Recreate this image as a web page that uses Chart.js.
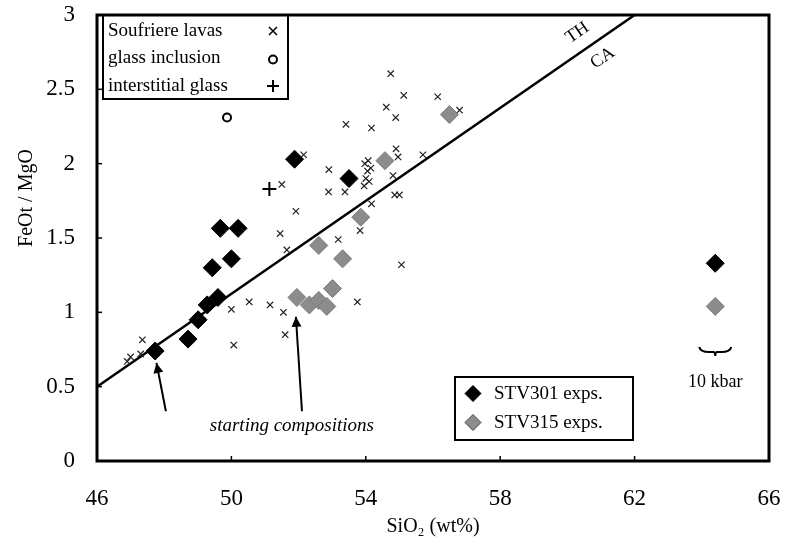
<!DOCTYPE html>
<html>
<head>
<meta charset="utf-8">
<script src="https://cdn.jsdelivr.net/npm/chart.js"></script>
<style>
  html, body { margin: 0; padding: 0; background: #fff; }
  #wrap { width: 792px; height: 544px; }
</style>
</head>
<body>
<div id="wrap"><canvas id="feoChart" width="792" height="544"></canvas></div>
<script>
// FeOt/MgO vs SiO2 - Soufriere lavas and experiments

const xTicks = [46, 50, 54, 58, 62, 66];
const yTicks = [0, 0.5, 1, 1.5, 2, 2.5, 3];

// Soufriere lavas (x marks)
const lavaSiO2 = [46.9, 47.0, 47.3, 47.35, 50.0, 50.07, 50.53, 51.15, 51.55, 51.6,
  51.5, 51.92, 51.45, 51.65, 52.15, 52.9, 52.89, 53.38, 53.41, 54.17,
  54.74, 55.13, 54.61, 54.89, 56.14, 53.83, 53.18, 53.75, 55.06, 54.96,
  54.9, 55.7, 54.81, 55.0, 54.86, 54.17, 53.95, 54.0, 54.05, 54.1,
  53.97, 54.07, 54.15, 56.79];
const lavaRatio = [0.67, 0.70, 0.72, 0.815, 1.02, 0.78, 1.07, 1.05, 1.00, 0.85,
  1.86, 1.68, 1.53, 1.42, 2.06, 1.96, 1.81, 1.81, 2.265, 2.24,
  2.605, 2.46, 2.38, 2.31, 2.45, 1.55, 1.49, 1.07, 1.32, 2.045,
  2.1, 2.06, 1.92, 1.79, 1.79, 1.73, 1.85, 1.90, 1.95, 1.88,
  2.0, 2.02, 1.97, 2.36];

// glass inclusion (o) and interstitial glass (+)
const inclSiO2 = [49.87];
const inclRatio = [2.31];
const interSiO2 = [51.13];
const interRatio = [1.83];

// experiments
const stv301SiO2 = [47.73, 48.71, 49.01, 49.28, 49.6, 49.43, 50.0, 49.67, 50.2, 51.88, 53.5, 64.4];
const stv301Ratio = [0.74, 0.82, 0.95, 1.05, 1.10, 1.30, 1.36, 1.565, 1.565, 2.03, 1.90, 1.33];
const stv315SiO2 = [51.95, 52.32, 52.6, 52.84, 53.01, 53.31, 52.6, 53.85, 54.57, 56.49, 64.4];
const stv315Ratio = [1.10, 1.05, 1.08, 1.04, 1.16, 1.36, 1.45, 1.64, 2.02, 2.33, 1.04];

// TH / CA dividing line
const divideSiO2 = [46, 62];
const divideRatio = [0.5, 3];

function pts(xs, ys) {
  return xs.map((x, i) => ({ x: x, y: ys[i] }));
}

const serif = '"Liberation Serif", "Times New Roman", serif';

function diamond(ctx, x, y, r, fill, stroke) {
  ctx.beginPath();
  ctx.moveTo(x - r, y);
  ctx.lineTo(x, y - r);
  ctx.lineTo(x + r, y);
  ctx.lineTo(x, y + r);
  ctx.closePath();
  ctx.fillStyle = fill;
  ctx.fill();
  ctx.strokeStyle = stroke;
  ctx.lineWidth = 1;
  ctx.stroke();
}

function arrow(ctx, x1, y1, x2, y2) {
  ctx.beginPath();
  ctx.moveTo(x1, y1);
  ctx.lineTo(x2, y2);
  ctx.lineWidth = 2;
  ctx.strokeStyle = '#000';
  ctx.stroke();
  const a = Math.atan2(y2 - y1, x2 - x1);
  const L = 10, W = 5;
  ctx.beginPath();
  ctx.moveTo(x2, y2);
  ctx.lineTo(x2 - L * Math.cos(a) + W * Math.sin(a), y2 - L * Math.sin(a) - W * Math.cos(a));
  ctx.lineTo(x2 - L * Math.cos(a) - W * Math.sin(a), y2 - L * Math.sin(a) + W * Math.cos(a));
  ctx.closePath();
  ctx.fillStyle = '#000';
  ctx.fill();
}

const decorPlugin = {
  id: 'decor',
  afterDraw(chart) {
    const ctx = chart.ctx;
    const a = chart.chartArea;
    const xs = chart.scales.x, ys = chart.scales.y;
    const px = v => xs.getPixelForValue(v);
    const py = v => ys.getPixelForValue(v);
    ctx.save();

    // frame
    ctx.strokeStyle = '#000';
    ctx.lineWidth = 3;
    ctx.strokeRect(a.left, a.top, a.right - a.left, a.bottom - a.top);

    // inward ticks
    ctx.lineWidth = 1.5;
    xTicks.forEach(t => {
      ctx.beginPath();
      ctx.moveTo(px(t), a.bottom);
      ctx.lineTo(px(t), a.bottom - 5);
      ctx.stroke();
    });
    yTicks.forEach(t => {
      ctx.beginPath();
      ctx.moveTo(a.left, py(t));
      ctx.lineTo(a.left + 5, py(t));
      ctx.stroke();
    });

    // axis titles
    ctx.fillStyle = '#000';
    ctx.font = '20px ' + serif;
    ctx.textAlign = 'center';
    ctx.textBaseline = 'middle';
    ctx.fillText('SiO\u2082 (wt%)', (a.left + a.right) / 2, 527);
    ctx.save();
    ctx.translate(27, 198);
    ctx.rotate(-Math.PI / 2);
    ctx.fillText('FeOt / MgO', 0, 0);
    ctx.restore();

    // top-left legend
    ctx.lineWidth = 2;
    ctx.strokeRect(a.left + 6, a.top, 185, 84);
    ctx.font = '19px ' + serif;
    ctx.textAlign = 'left';
    const rows = ['Soufriere lavas', 'glass inclusion', 'interstitial glass'];
    rows.forEach((t, i) => ctx.fillText(t, a.left + 11, a.top + 16 + i * 27.5));
    const mx = a.left + 176;
    ctx.lineWidth = 1.5;
    let my = a.top + 16;
    ctx.beginPath();
    ctx.moveTo(mx - 4, my - 4); ctx.lineTo(mx + 4, my + 4);
    ctx.moveTo(mx + 4, my - 4); ctx.lineTo(mx - 4, my + 4);
    ctx.stroke();
    my += 27.5;
    ctx.lineWidth = 2;
    ctx.beginPath();
    ctx.arc(mx, my + 1, 4, 0, Math.PI * 2);
    ctx.stroke();
    my += 27.5;
    ctx.beginPath();
    ctx.moveTo(mx - 6, my); ctx.lineTo(mx + 6, my);
    ctx.moveTo(mx, my - 6); ctx.lineTo(mx, my + 6);
    ctx.stroke();

    // bottom legend
    ctx.lineWidth = 2;
    ctx.strokeRect(455, 377, 178, 63);
    diamond(ctx, 473, 393.5, 8, '#000', '#000');
    diamond(ctx, 473, 422.5, 8, '#8c8c8c', '#444');
    ctx.fillStyle = '#000';
    ctx.font = '19px ' + serif;
    ctx.fillText('STV301 exps.', 494, 394);
    ctx.fillText('STV315 exps.', 494, 423);

    // TH / CA labels along the line
    const ang = Math.atan2(py(3) - py(0.5), px(62) - px(46));
    ctx.font = '18px ' + serif;
    ctx.textAlign = 'center';
    ctx.save();
    ctx.translate(px(60.3), py(2.88));
    ctx.rotate(ang);
    ctx.fillText('TH', 0, 0);
    ctx.restore();
    ctx.save();
    ctx.translate(px(61.05), py(2.71));
    ctx.rotate(ang);
    ctx.fillText('CA', 0, 0);
    ctx.restore();

    // starting compositions
    arrow(ctx, px(48.05), py(0.335), px(47.77), py(0.66));
    arrow(ctx, px(52.1), py(0.335), px(51.92), py(0.97));
    ctx.font = 'italic 19px ' + serif;
    ctx.fillText('starting compositions', px(51.8), py(0.235));

    // 10 kbar brace
    const bx = px(64.4), by = py(0.74);
    ctx.lineWidth = 2;
    ctx.beginPath();
    ctx.moveTo(bx - 16, by - 4);
    ctx.quadraticCurveTo(bx - 15, by + 1, bx - 6, by + 1);
    ctx.lineTo(bx - 2, by + 1);
    ctx.quadraticCurveTo(bx, by + 1, bx, by + 5);
    ctx.quadraticCurveTo(bx, by + 1, bx + 2, by + 1);
    ctx.lineTo(bx + 6, by + 1);
    ctx.quadraticCurveTo(bx + 15, by + 1, bx + 16, by - 4);
    ctx.stroke();
    ctx.font = '18px ' + serif;
    ctx.fillText('10 kbar', bx, py(0.53));

    ctx.restore();
  }
};

const ctx = document.getElementById('feoChart').getContext('2d');
new Chart(ctx, {
  type: 'scatter',
  data: {
    datasets: [
      {
        label: 'STV301 exps.',
        data: pts(stv301SiO2, stv301Ratio),
        pointStyle: 'rectRot',
        pointRadius: 9,
        backgroundColor: '#000',
        borderColor: '#000',
        borderWidth: 1,
        order: 1
      },
      {
        label: 'STV315 exps.',
        data: pts(stv315SiO2, stv315Ratio),
        pointStyle: 'rectRot',
        pointRadius: 9,
        backgroundColor: '#8c8c8c',
        borderColor: '#7a7a7a',
        borderWidth: 1,
        order: 2
      },
      {
        label: 'glass inclusion',
        data: pts(inclSiO2, inclRatio),
        pointStyle: 'circle',
        pointRadius: 4,
        backgroundColor: '#fff',
        borderColor: '#000',
        borderWidth: 2,
        order: 3
      },
      {
        label: 'interstitial glass',
        data: pts(interSiO2, interRatio),
        pointStyle: 'cross',
        pointRadius: 7,
        borderColor: '#000',
        borderWidth: 2,
        order: 3
      },
      {
        label: 'Soufriere lavas',
        data: pts(lavaSiO2, lavaRatio),
        pointStyle: 'crossRot',
        pointRadius: 4.5,
        borderColor: '#222',
        borderWidth: 1.2,
        order: 4
      },
      {
        label: 'TH/CA',
        data: pts(divideSiO2, divideRatio),
        showLine: true,
        pointRadius: 0,
        borderColor: '#000',
        borderWidth: 2.5,
        order: 5
      }
    ]
  },
  options: {
    responsive: false,
    animation: false,
    layout: { padding: { left: 0, top: 15, right: 23, bottom: 0 } },
    plugins: {
      legend: { display: false },
      tooltip: { enabled: false }
    },
    scales: {
      x: {
        type: 'linear',
        min: 46,
        max: 66,
        afterBuildTicks: s => { s.ticks = xTicks.map(v => ({ value: v })); },
        afterFit: s => { s.height = 83; s.paddingLeft = 0; s.paddingRight = 0; },
        grid: { display: false },
        border: { display: false },
        ticks: { color: '#000', padding: 16, font: { family: serif, size: 23 }, callback: v => String(v) }
      },
      y: {
        type: 'linear',
        min: 0,
        max: 3,
        afterBuildTicks: s => { s.ticks = yTicks.map(v => ({ value: v })); },
        afterFit: s => { s.width = 97; s.paddingTop = 0; s.paddingBottom = 0; },
        grid: { display: false },
        border: { display: false },
        ticks: { color: '#000', padding: 14, font: { family: serif, size: 23 }, callback: v => String(v) }
      }
    }
  },
  plugins: [decorPlugin]
});
</script>
</body>
</html>
